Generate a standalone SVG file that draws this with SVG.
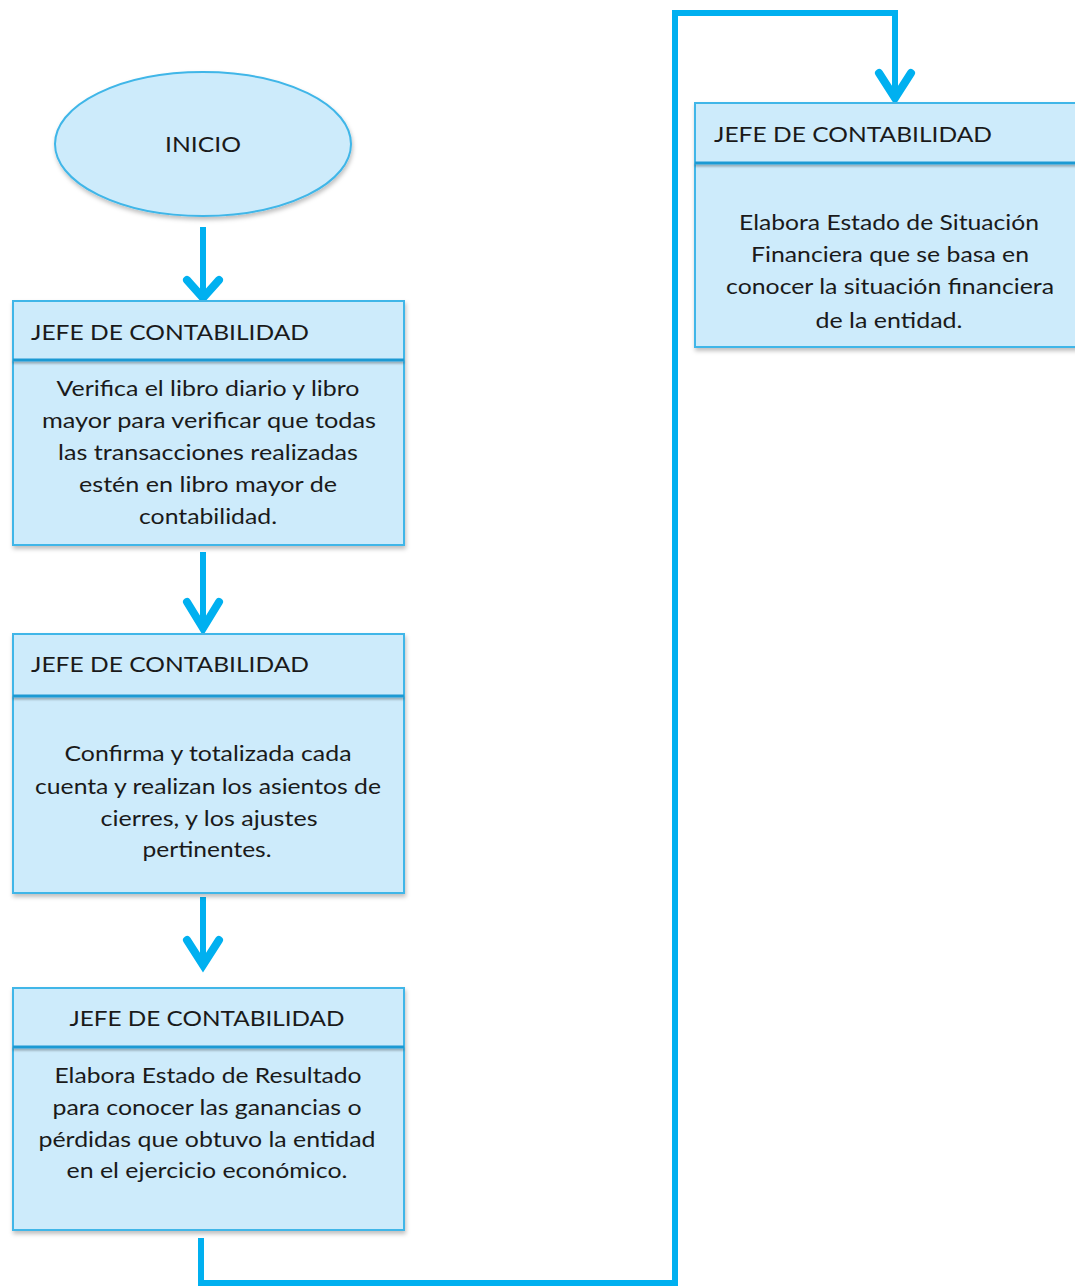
<svg xmlns="http://www.w3.org/2000/svg" width="1075" height="1286" viewBox="0 0 1075 1286">
  <style>
    .box { fill: #CDEBFB; stroke: #3FB6E8; stroke-width: 2; }
    .divider { fill: #1E9AD3; }
    .flow { fill: none; stroke: #00B0F0; stroke-width: 6; stroke-linejoin: miter; }
    .head { stroke: #00B0F0; stroke-width: 8; fill: none; stroke-linecap: round; stroke-linejoin: miter; }
    text { font-family: Lato, "Open Sans", "Liberation Sans", sans-serif; font-size: 22px; fill: #1a1a1a; }
    .c { text-anchor: middle; }
  </style>
  <defs>
    <filter id="shadow" x="-5%" y="-5%" width="112%" height="115%">
      <feDropShadow dx="1" dy="3" stdDeviation="2" flood-color="#000" flood-opacity="0.25"/>
    </filter>
    <filter id="lineShadow" x="-5%" y="-100%" width="110%" height="400%">
      <feDropShadow dx="0" dy="2" stdDeviation="1.2" flood-color="#000" flood-opacity="0.3"/>
    </filter>
  </defs>

  <rect width="1075" height="1286" fill="#ffffff"/>

  <!-- connectors -->
  <g id="connectors">
    <line class="flow" x1="203" y1="227" x2="203" y2="299"/>
    <polyline class="head" points="187,280 203,298 219,280"/>

    <line class="flow" x1="203" y1="552" x2="203" y2="630"/>
    <polyline class="head" points="187,602 203,628 219,602"/>

    <line class="flow" x1="203" y1="897" x2="203" y2="967"/>
    <polyline class="head" points="187,940 203,965 219,940"/>

    <polyline class="flow" points="201,1238 201,1283 675,1283 675,13 895,13 895,100"/>
    <polyline class="head" points="879,73 895,98 911,73"/>
  </g>

  <!-- start terminator -->
  <g id="inicio">
    <ellipse cx="203" cy="144" rx="148" ry="72" fill="#CDEBFB" stroke="#3FB6E8" stroke-width="2" filter="url(#shadow)"/>
    <text class="c" x="203" y="152" textLength="76" lengthAdjust="spacingAndGlyphs">INICIO</text>
  </g>

  <!-- step 1 -->
  <g id="paso1">
    <rect class="box" x="13" y="301" width="391" height="244" filter="url(#shadow)"/>
    <rect class="divider" x="13" y="358.5" width="391" height="3" filter="url(#lineShadow)"/>
    <text x="31" y="340" textLength="278" lengthAdjust="spacingAndGlyphs">JEFE DE CONTABILIDAD</text>
    <text class="c" x="208" y="396" textLength="303" lengthAdjust="spacingAndGlyphs">Verifica el libro diario y libro</text>
    <text class="c" x="209" y="428" textLength="334" lengthAdjust="spacingAndGlyphs">mayor para verificar que todas</text>
    <text class="c" x="208" y="460" textLength="300" lengthAdjust="spacingAndGlyphs">las transacciones realizadas</text>
    <text class="c" x="208" y="492" textLength="258" lengthAdjust="spacingAndGlyphs">estén en libro mayor de</text>
    <text class="c" x="208" y="524" textLength="138" lengthAdjust="spacingAndGlyphs">contabilidad.</text>
  </g>

  <!-- step 2 -->
  <g id="paso2">
    <rect class="box" x="13" y="634" width="391" height="259" filter="url(#shadow)"/>
    <rect class="divider" x="13" y="694.5" width="391" height="3" filter="url(#lineShadow)"/>
    <text x="31" y="672" textLength="278" lengthAdjust="spacingAndGlyphs">JEFE DE CONTABILIDAD</text>
    <text class="c" x="208" y="761" textLength="287" lengthAdjust="spacingAndGlyphs">Confirma y totalizada cada</text>
    <text class="c" x="208" y="794" textLength="346" lengthAdjust="spacingAndGlyphs">cuenta y realizan los asientos de</text>
    <text class="c" x="209" y="826" textLength="217" lengthAdjust="spacingAndGlyphs">cierres, y los ajustes</text>
    <text class="c" x="207" y="857" textLength="129" lengthAdjust="spacingAndGlyphs">pertinentes.</text>
  </g>

  <!-- step 3 -->
  <g id="paso3">
    <rect class="box" x="13" y="988" width="391" height="242" filter="url(#shadow)"/>
    <rect class="divider" x="13" y="1045.5" width="391" height="3" filter="url(#lineShadow)"/>
    <text class="c" x="207" y="1026" textLength="275" lengthAdjust="spacingAndGlyphs">JEFE DE CONTABILIDAD</text>
    <text class="c" x="208" y="1083" textLength="307" lengthAdjust="spacingAndGlyphs">Elabora Estado de Resultado</text>
    <text class="c" x="207" y="1115" textLength="309" lengthAdjust="spacingAndGlyphs">para conocer las ganancias o</text>
    <text class="c" x="207" y="1147" textLength="337" lengthAdjust="spacingAndGlyphs">pérdidas que obtuvo la entidad</text>
    <text class="c" x="207" y="1178" textLength="281" lengthAdjust="spacingAndGlyphs">en el ejercicio económico.</text>
  </g>

  <!-- step 4 -->
  <g id="paso4">
    <rect class="box" x="695" y="103" width="390" height="244" filter="url(#shadow)"/>
    <rect class="divider" x="695" y="161.5" width="390" height="3" filter="url(#lineShadow)"/>
    <text x="714" y="142" textLength="278" lengthAdjust="spacingAndGlyphs">JEFE DE CONTABILIDAD</text>
    <text class="c" x="889" y="230" textLength="300" lengthAdjust="spacingAndGlyphs">Elabora Estado de Situación</text>
    <text class="c" x="890" y="262" textLength="278" lengthAdjust="spacingAndGlyphs">Financiera que se basa en</text>
    <text class="c" x="890" y="294" textLength="328" lengthAdjust="spacingAndGlyphs">conocer la situación financiera</text>
    <text class="c" x="889" y="328" textLength="147" lengthAdjust="spacingAndGlyphs">de la entidad.</text>
  </g>
</svg>
